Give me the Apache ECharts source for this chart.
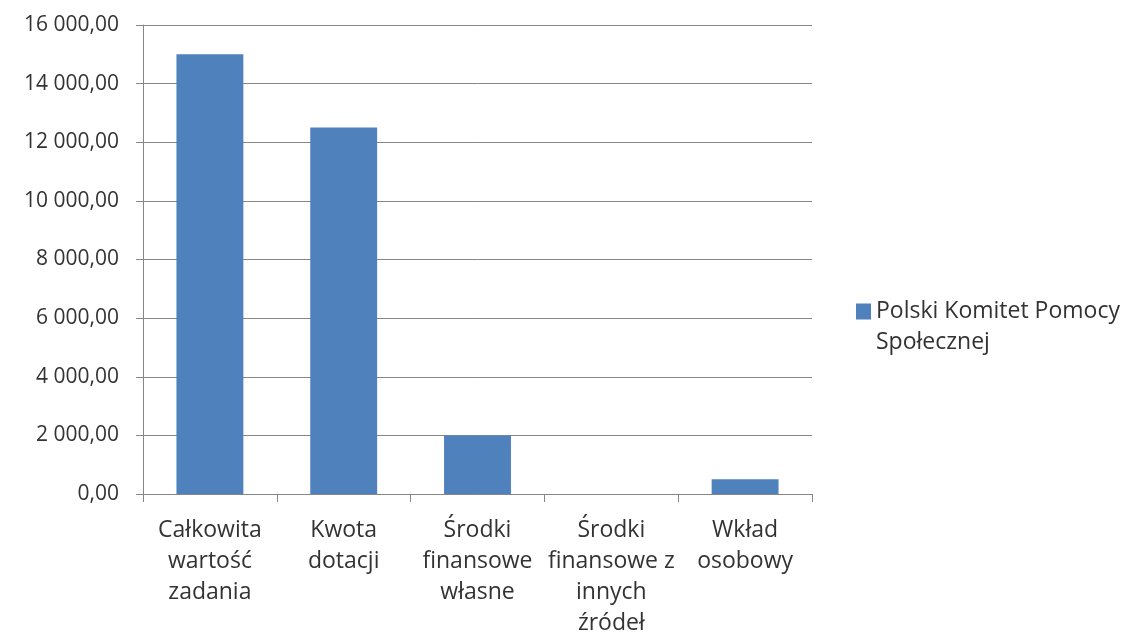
<!DOCTYPE html>
<html>
<head>
<meta charset="utf-8">
<script src="https://cdn.jsdelivr.net/npm/echarts@6/dist/echarts.min.js"></script>
<style>
  html, body { margin: 0; padding: 0; background: #fff; }
  #chart { width: 1129px; height: 635px; }
</style>
</head>
<body>
<div id="chart"></div>
<script>
// dane z wykresu
const categories = [
  'Całkowita\nwartość\nzadania',
  'Kwota\ndotacji',
  'Środki\nfinansowe\nwłasne',
  'Środki\nfinansowe z\ninnych\nźródeł',
  'Wkład\nosobowy'
];
const values = [15000, 12500, 2000, 0, 500];
const seriesName = 'Polski Komitet Pomocy Społecznej';

const fontFamily = '"Open Sans", sans-serif';
const gridColor = '#868686';
const textColor = '#333';

// 16 000,00
function fmt(v) {
  const s = Math.round(v).toString().replace(/\B(?=(\d{3})+(?!\d))/g, ' ');
  return s + ',00';
}

const chart = echarts.init(document.getElementById('chart'));
chart.setOption({
  animation: false,
  grid: { left: 143, right: 317, top: 25, bottom: 141, outerBoundsMode: 'none' },
  legend: {
    left: 856,
    top: 265,
    padding: 0,
    orient: 'vertical',
    itemWidth: 15,
    itemHeight: 16,
    icon: 'rect',
    // pusta linia na początku, żeby kwadrat był na wysokości pierwszej linii
    formatter: () => '\nPolski Komitet Pomocy\nSpołecznej',
    textStyle: { fontFamily, fontSize: 23, color: textColor, lineHeight: 31 }
  },
  xAxis: {
    type: 'category',
    data: categories,
    axisLine: { lineStyle: { color: gridColor } },
    axisTick: { show: true, length: 8, lineStyle: { color: gridColor } },
    axisLabel: {
      interval: 0,
      margin: 21,
      fontFamily,
      fontSize: 23,
      lineHeight: 31,
      color: textColor
    }
  },
  yAxis: {
    type: 'value',
    min: 0,
    max: 16000,
    interval: 2000,
    axisLine: { show: true, lineStyle: { color: gridColor } },
    axisTick: { show: true, length: 7, lineStyle: { color: gridColor } },
    splitLine: { lineStyle: { color: gridColor } },
    axisLabel: {
      margin: 24,
      fontFamily,
      fontSize: 21,
      color: textColor,
      formatter: fmt
    }
  },
  series: [{
    name: seriesName,
    type: 'bar',
    data: values,
    barWidth: '50%',
    itemStyle: { color: '#4F81BD' }
  }]
});
</script>
</body>
</html>
